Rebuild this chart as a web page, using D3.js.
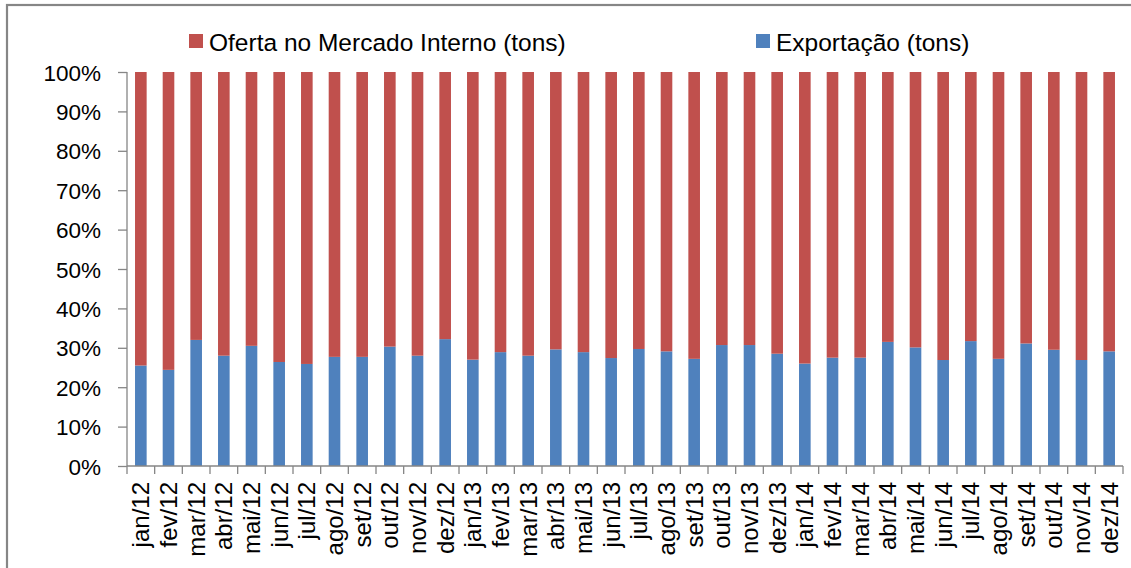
<!DOCTYPE html>
<html>
<head>
<meta charset="utf-8">
<script src="https://cdn.jsdelivr.net/npm/d3@7"></script>
<style>
body{margin:0;background:#fff;}
text{font-family:"Liberation Sans",Arial,sans-serif;fill:#000;}
</style>
</head>
<body>
<script>
// data (share of total, %)
var months = ["jan/12","fev/12","mar/12","abr/12","mai/12","jun/12","jul/12","ago/12","set/12","out/12","nov/12","dez/12",
              "jan/13","fev/13","mar/13","abr/13","mai/13","jun/13","jul/13","ago/13","set/13","out/13","nov/13","dez/13",
              "jan/14","fev/14","mar/14","abr/14","mai/14","jun/14","jul/14","ago/14","set/14","out/14","nov/14","dez/14"];
var exportacao = [25.5,24.4,32.0,28.0,30.5,26.4,25.9,27.7,27.7,30.3,28.0,32.2,
                  27.0,28.9,28.0,29.6,28.9,27.4,29.7,29.1,27.2,30.7,30.7,28.5,
                  26.0,27.5,27.5,31.5,30.1,26.9,31.7,27.2,31.1,29.5,26.9,29.1];
var interno = exportacao.map(function(v){return 100-v;});
var yTicks = [0,10,20,30,40,50,60,70,80,90,100];
var seriesNames = ["Oferta no Mercado Interno (tons)","Exportação (tons)"];
var seriesColors = ["#C0504D","#4F81BD"];

var W=1131,H=568;
var pLeft=127,pRight=1123,pTop=72,pBottom=466;
var svg=d3.select("body").append("svg").attr("width",W).attr("height",H);

// outer frame
svg.append("rect").attr("x",7).attr("y",5).attr("width",W+20).attr("height",H+20)
  .attr("fill","none").attr("stroke","#868686").attr("stroke-width",2.2);

var x=d3.scaleBand().domain(months).range([pLeft,pRight]).paddingInner(0.58).paddingOuter(0.29);
var y=d3.scaleLinear().domain([0,100]).range([pBottom,pTop]);

var rows=months.map(function(m,i){return {m:m,exp:exportacao[i],int:interno[i]};});

// blue part
svg.selectAll(".exp").data(rows).enter().append("rect").attr("class","exp")
  .attr("x",function(d){return x(d.m);}).attr("width",x.bandwidth())
  .attr("y",function(d){return y(d.exp);})
  .attr("height",function(d){return y(0)-y(d.exp);})
  .attr("fill",seriesColors[1]);
// red part
svg.selectAll(".int").data(rows).enter().append("rect").attr("class","int")
  .attr("x",function(d){return x(d.m);}).attr("width",x.bandwidth())
  .attr("y",function(d){return y(d.exp+d.int);})
  .attr("height",function(d){return y(d.exp)-y(d.exp+d.int);})
  .attr("fill",seriesColors[0]);

// y axis
var yAxis=svg.append("g").attr("transform","translate("+pLeft+",0)")
  .call(d3.axisLeft(y).tickValues(yTicks).tickSize(9).tickPadding(17)
    .tickFormat(function(d){return d+"%";}));
yAxis.select(".domain").attr("stroke","#868686").attr("stroke-width",1.3).attr("d","M0,"+pTop+"V"+pBottom);
yAxis.selectAll(".tick line").attr("stroke","#868686").attr("stroke-width",1.3);
yAxis.selectAll("text").style("font-size","22.5px").style("font-family","Liberation Sans").attr("fill","#000").attr("dy","0.36em");

// x axis: ticks between categories
var xg=svg.append("g");
xg.append("line").attr("x1",pLeft).attr("x2",pRight).attr("y1",pBottom).attr("y2",pBottom)
  .attr("stroke","#868686").attr("stroke-width",1.3);
xg.selectAll(".xt").data(d3.range(months.length+1)).enter().append("line")
  .attr("x1",function(i){return pLeft+i*(pRight-pLeft)/months.length;})
  .attr("x2",function(i){return pLeft+i*(pRight-pLeft)/months.length;})
  .attr("y1",pBottom).attr("y2",pBottom+8)
  .attr("stroke","#868686").attr("stroke-width",1.3);
xg.selectAll(".xl").data(months).enter().append("text")
  .attr("transform",function(d){return "translate("+(x(d)+x.bandwidth()/2)+","+(pBottom+16)+") rotate(-90)";})
  .attr("text-anchor","end").attr("dy","0.36em")
  .style("font-size","24px")
  .text(function(d){return d;});

// legend
var legX=[189,756];
var leg=svg.selectAll(".leg").data(seriesNames).enter().append("g")
  .attr("transform",function(d,i){return "translate("+legX[i]+",34)";});
leg.append("rect").attr("width",14).attr("height",14)
  .attr("fill",function(d,i){return seriesColors[i];});
leg.append("text").attr("x",20).attr("y",16.5).style("font-size","24.5px")
  .text(function(d){return d;});
</script>
</body>
</html>
